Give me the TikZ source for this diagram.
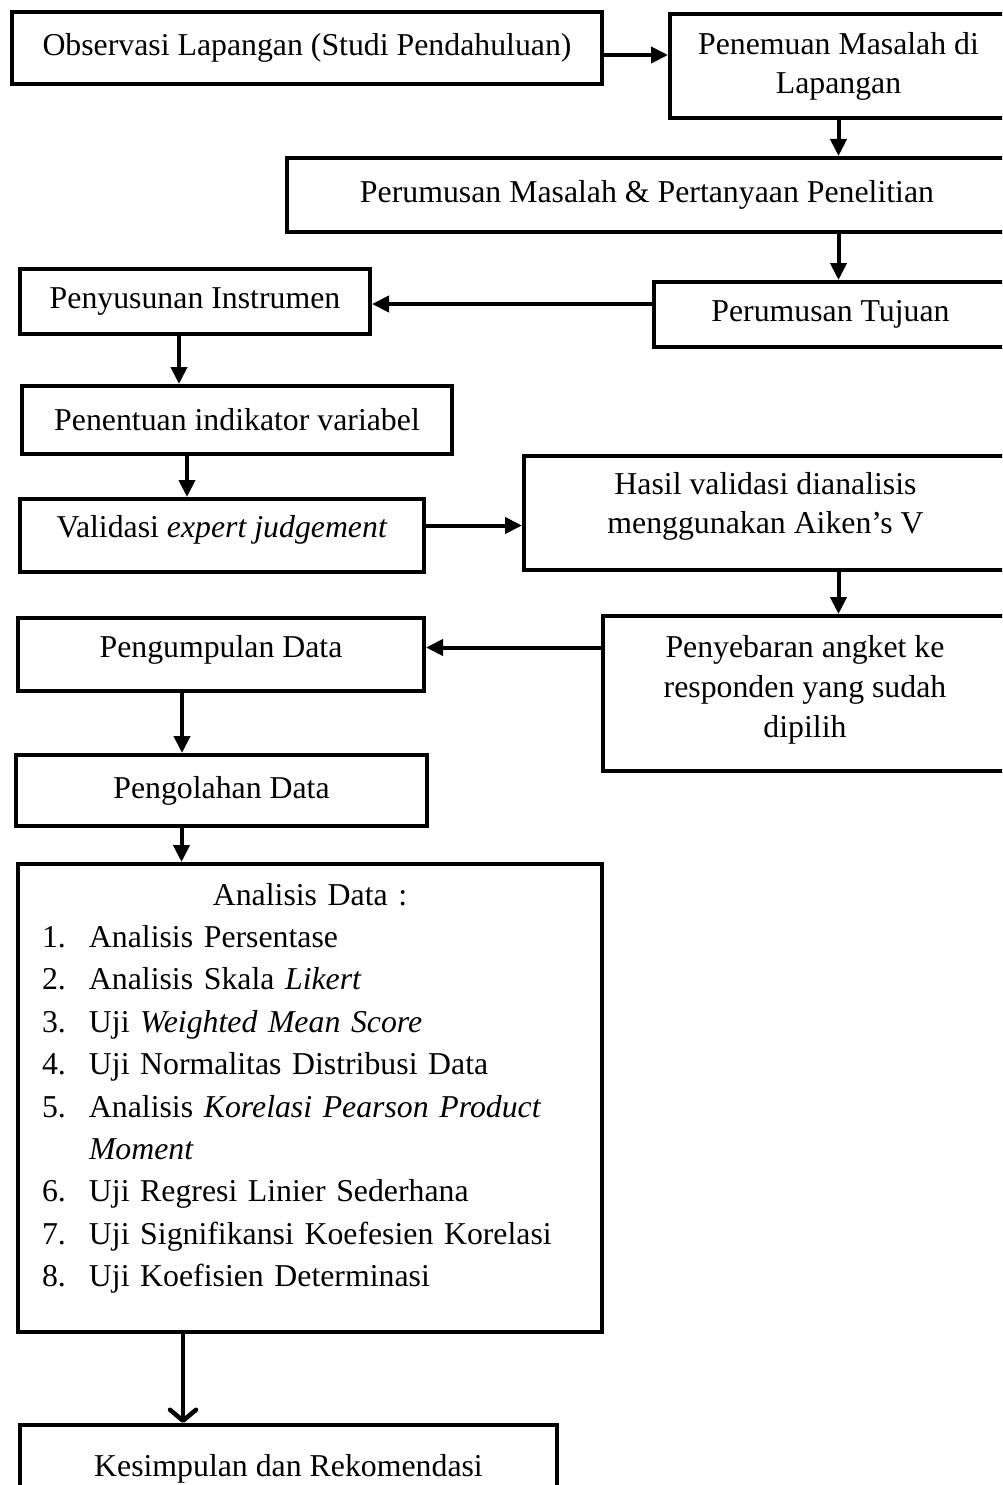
\documentclass[tikz,border=0pt]{standalone}
\usepackage{fontspec}
\setmainfont{Liberation Serif}
\usetikzlibrary{arrows.meta}
\newcommand{\listno}[1]{\makebox[47pt][l]{#1}}

\begin{document}
\begin{tikzpicture}[x=1pt,y=-1pt,
  box/.style={draw,line width=4pt,anchor=north west,inner sep=6pt,align=center,
    font=\fontsize{31.8}{39}\selectfont},
  flow/.style={line width=4pt,-{Triangle[length=17pt,width=16pt]}},
  last/.style={line width=4.5pt,line cap=round,
    -{Straight Barb[length=11pt,width=26pt,line cap=round,line join=round]}}]
\fill[white] (0,0) rectangle (1002,1485);
\useasboundingbox (0,0) rectangle (1002,1485);
\clip (0,0) rectangle (1002,1485);
% first steps, right column runs off the page
\node[box,minimum width=590pt,minimum height=72pt] (obs) at (10,10) {Observasi Lapangan (Studi Pendahuluan)};
\node[box,minimum width=337pt,minimum height=104pt] (temuan) at (668,12) {Penemuan Masalah di\\Lapangan};
\node[box,minimum width=720pt,minimum height=74pt] (masalah) at (285,156) {Perumusan Masalah \& Pertanyaan Penelitian};
\node[box,minimum width=353pt,minimum height=65pt] (tujuan) at (652,280) {Perumusan Tujuan};
% instrument
\node[box,minimum width=350pt,minimum height=65pt] (instrumen) at (18,267) {Penyusunan Instrumen};
\node[box,minimum width=430pt,minimum height=68pt] (indikator) at (20,384) {Penentuan indikator variabel};
\node[box,minimum width=404pt,minimum height=73pt,text depth=19pt] (validasi) at (18,497) {Validasi \textit{expert judgement}};
\node[box,minimum width=483pt,minimum height=114pt,text depth=21pt] (hasil) at (522,454) {Hasil validasi dianalisis\\menggunakan Aiken’s V};
\node[box,minimum width=404pt,minimum height=155pt,text depth=15pt,
  font=\fontsize{31.8}{40}\selectfont] (sebar) at (601,614) {Penyebaran angket ke\\responden yang sudah\\dipilih};
% data
\node[box,minimum width=406pt,minimum height=73pt,text depth=17pt] (kumpul) at (16,616) {Pengumpulan Data};
\node[box,minimum width=411pt,minimum height=71pt] (olah) at (14,753) {Pengolahan Data};
\node[box,minimum width=584pt,minimum height=468pt,inner xsep=24pt,text width=536pt,
  align=left,text height=35pt,text depth=421pt,
  font=\fontsize{31.8}{42.4}\selectfont] (analisis) at (16,862) {%
  \makebox[536pt][c]{Analisis Data :}\\
  \listno{1.}Analisis Persentase\\
  \listno{2.}Analisis Skala \textit{Likert}\\
  \listno{3.}Uji \textit{Weighted Mean Score}\\
  \listno{4.}Uji Normalitas Distribusi Data\\
  \listno{5.}Analisis \textit{Korelasi Pearson Product}\\
  \listno{}\textit{Moment}\\
  \listno{6.}Uji Regresi Linier Sederhana\\
  \listno{7.}Uji Signifikansi Koefesien Korelasi\\
  \listno{8.}Uji Koefisien Determinasi};
\node[box,minimum width=537pt,minimum height=88pt] (kesimpulan) at (18,1423) {Kesimpulan dan Rekomendasi};
% arrows
\draw[flow] ([yshift=-7pt]obs.east) -- ([yshift=-7pt]obs.east -| temuan.west);
\draw[flow] (temuan.south) -- (temuan.south |- masalah.north);
\draw[flow] (masalah.south -| temuan.south) -- (tujuan.north -| temuan.south);
\draw[flow] ([yshift=-2.5pt]instrumen.east -| tujuan.west) -- ([yshift=-2.5pt]instrumen.east);
\draw[flow] ([xshift=-16pt]instrumen.south) -- ([xshift=-16pt]instrumen.south |- indikator.north);
\draw[flow] ([xshift=-50pt]indikator.south) -- ([xshift=-50pt]indikator.south |- validasi.north);
\draw[flow] ([yshift=10pt]validasi.east) -- ([yshift=10pt]validasi.east -| hasil.west);
\draw[flow] ([xshift=73pt]hasil.south) -- ([xshift=73pt]hasil.south |- sebar.north);
\draw[flow] ([yshift=7pt]kumpul.east -| sebar.west) -- ([yshift=7pt]kumpul.east);
\draw[flow] ([xshift=-39pt]kumpul.south) -- ([xshift=-39pt]kumpul.south |- olah.north);
\draw[flow] ([xshift=-40pt]olah.south) -- ([xshift=-40pt]olah.south |- analisis.north);
\draw[last] ([xshift=-127pt]analisis.south) -- ([xshift=-127pt]analisis.south |- kesimpulan.north);
\end{tikzpicture}
\end{document}
